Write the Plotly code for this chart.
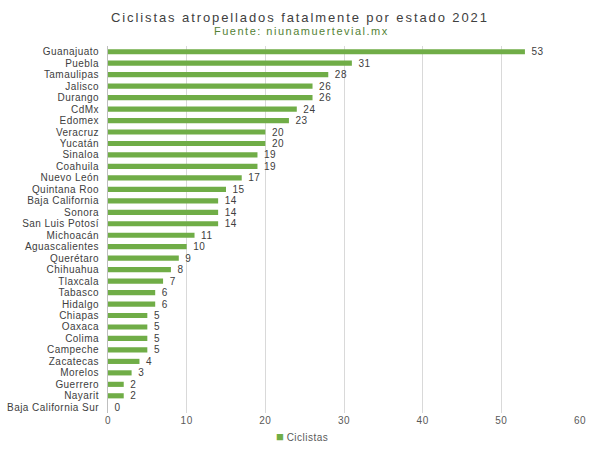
import plotly.graph_objects as go

estados = ["Guanajuato", "Puebla", "Tamaulipas", "Jalisco", "Durango", "CdMx", "Edomex",
           "Veracruz", "Yucatán", "Sinaloa", "Coahuila", "Nuevo León", "Quintana Roo",
           "Baja California", "Sonora", "San Luis Potosí", "Michoacán", "Aguascalientes",
           "Querétaro", "Chihuahua", "Tlaxcala", "Tabasco", "Hidalgo", "Chiapas", "Oaxaca",
           "Colima", "Campeche", "Zacatecas", "Morelos", "Guerrero", "Nayarit",
           "Baja California Sur"]
ciclistas = [53, 31, 28, 26, 26, 24, 23, 20, 20, 19, 19, 17, 15, 14, 14, 14, 11, 10,
             9, 8, 7, 6, 6, 5, 5, 5, 5, 4, 3, 2, 2, 0]
x_ticks = [0, 10, 20, 30, 40, 50, 60]

green = "#70AD47"
font = "Liberation Sans, Arial, sans-serif"


def spaced(s, px):
    return f'<span style="letter-spacing:{px}px">{s}</span>'


fig = go.Figure()
fig.add_trace(go.Bar(
    x=ciclistas, y=estados, orientation="h", name="Ciclistas",
    marker=dict(color=green, line=dict(width=0)),
    width=0.45, showlegend=False,
    text=[spaced("\u00a0\u00a0" + str(v), 0.5) for v in ciclistas], textposition="outside",
    constraintext="none",
    textfont=dict(size=10, color="#404040", family=font),
    cliponaxis=False,
))
# legend entry: small square swatch drawn as part of the label, close to the text
fig.add_trace(go.Scatter(
    x=[None], y=[None], mode="markers",
    name=f'<span style="color:{green};font-size:13px">■</span>\u00a0' + spaced("Ciclistas", 0.5),
    marker=dict(symbol="square", size=1, color="rgba(0,0,0,0)"),
))

fig.update_layout(
    width=600, height=450,
    margin=dict(l=108, r=20, t=46, b=37, autoexpand=False),
    plot_bgcolor="white", paper_bgcolor="white",
    font=dict(family=font, size=10, color="#595959"),
    showlegend=True,
    legend=dict(orientation="h", x=236 / 600, xanchor="left", xref="container",
                y=(450 - 437) / 450, yanchor="middle", yref="container",
                font=dict(size=10, color="#595959"), itemwidth=30,
                bgcolor="rgba(0,0,0,0)"),
)
fig.add_annotation(text=spaced("Ciclistas atropellados fatalmente por estado 2021", 1.9),
                   xref="paper", yref="paper", x=(300 - 108) / 472, y=1.0, yshift=38,
                   showarrow=False, font=dict(size=13, color="#404040", family=font))
fig.add_annotation(text=spaced("Fuente: niunamuertevial.mx", 1.5),
                   xref="paper", yref="paper", x=(301 - 108) / 472, y=1.0, yshift=23,
                   showarrow=False, font=dict(size=11, color="#548235", family=font))
fig.update_xaxes(range=[0, 60], tickvals=x_ticks, showgrid=True, gridcolor="#D9D9D9",
                 gridwidth=1, zeroline=False, showline=False,
                 ticktext=[spaced(str(t), 0.5) for t in x_ticks],
                 tickfont=dict(size=10, color="#595959"))
fig.update_yaxes(categoryorder="array", categoryarray=estados,
                 range=[len(estados) - 0.5, -0.5],
                 tickmode="array", tickvals=estados,
                 ticktext=[spaced(e, 0.45) for e in estados],
                 showline=True, linecolor="#BFBFBF", ticks="", ticklabelstandoff=6,
                 showgrid=False, tickfont=dict(size=10, color="#404040"))

fig.write_html("out.html")
